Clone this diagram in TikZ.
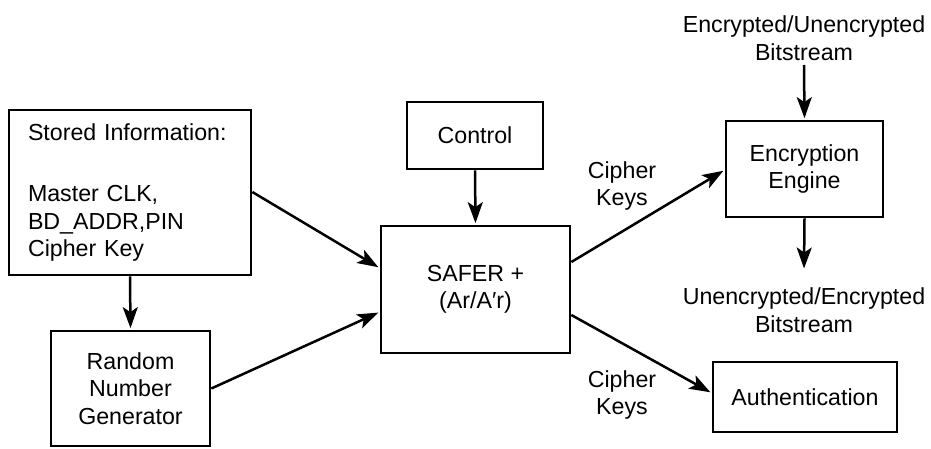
\documentclass[tikz,border=0pt]{standalone}
\usepackage{fontspec}
\setmainfont{Liberation Sans}
\usetikzlibrary{arrows.meta}

\tikzset{
  lbl/.style={font=\fontsize{23.2}{27.5}\selectfont, align=center, inner sep=0pt},
  blk/.style={lbl, draw, line width=2.7pt, minimum width=#1},
  arr/.style={line width=2.5pt, shorten >=1.5pt,
    -{Stealth[length=21pt, width=15pt, inset=5pt]}},
}

\begin{document}
\begin{tikzpicture}[x=1pt, y=-1pt]
  \useasboundingbox (0,0) rectangle (931,449);

  % blocks
  \node[blk=242pt, minimum height=165pt, align=left, text width=204pt] (stored) at (130,192.5)
    {Stored Information:\\[34pt]Master CLK,\\BD\_ADDR,PIN\\Cipher Key};
  \node[blk=159pt, minimum height=115pt] (rng) at (130.5,388.5) {Random\\Number\\Generator};
  \node[blk=136pt, minimum height=67pt] (ctrl) at (475,135.5) {Control};
  \node[blk=189pt, minimum height=127pt] (safer) at (475.5,289.5) {SAFER +\\(Ar/A′r)};
  \node[blk=157pt, minimum height=96pt] (enc) at (804.5,169) {Encryption\\Engine};
  \node[blk=184pt, minimum height=70pt] (auth) at (805,397) {Authentication};

  % free labels
  \node[lbl] (instream) at (804,38) {Encrypted/Unencrypted\\Bitstream};
  \node[lbl] (outstream) at (804,310) {Unencrypted/Encrypted\\Bitstream};
  \node[lbl] (keysup) at (622,186) {Cipher\\Keys};
  \node[lbl] (keyslow) at (622,395) {Cipher\\Keys};

  % connectors
  \draw[arr] (stored.south) -- (rng.north);
  \draw[arr] (stored.east |- 0,192) -- (safer.west |- 0,268);
  \draw[arr] (rng.east) -- (safer.west |- 0,312);
  \draw[arr] (ctrl.south) -- (safer.north);
  \draw[arr] (safer.east |- 0,262) -- (enc.west |- 0,170);
  \draw[arr] (safer.east |- 0,315) -- (auth.west |- 0,393);
  \draw[arr] (instream.south |- 0,65) -- (enc.north);
  \draw[arr] (enc.south) -- (outstream.north |- 0,270);
\end{tikzpicture}
\end{document}
